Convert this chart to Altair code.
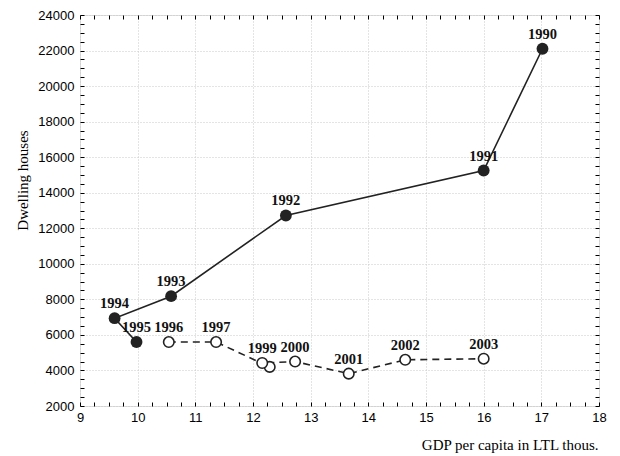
import altair as alt
import pandas as pd

years = [1990, 1991, 1992, 1993, 1994, 1995, 1996, 1997, 1998, 1999, 2000, 2001, 2002, 2003]
gdp = [17.02, 16.0, 12.57, 10.58, 9.60, 9.98, 10.54, 11.36, 12.29, 12.16, 12.73, 13.66, 14.64, 16.0]
houses = [22100, 15250, 12720, 8180, 6940, 5600, 5600, 5600, 4200, 4420, 4500, 3820, 4600, 4660]
groups = ["a"] * 6 + ["b"] * 8
labels = ["1990", "1991", "1992", "1993", "1994", "1995", "1996", "1997", "", "1999",
          "2000", "2001", "2002", "2003"]

x_major = [9, 10, 11, 12, 13, 14, 15, 16, 17, 18]
y_major = [2000, 4000, 6000, 8000, 10000, 12000, 14000, 16000, 18000, 20000, 22000, 24000]
x_minor = [9 + i * 0.25 for i in range(37)]
y_minor = [2000 + i * 500 for i in range(45)]

df = pd.DataFrame({"year": years, "gdp": gdp, "houses": houses, "grp": groups, "label": labels})

W, H = 519, 391
xs = alt.Scale(domain=[9, 18], nice=False, zero=False)
ys = alt.Scale(domain=[2000, 24000], nice=False, zero=False)

base = alt.Chart(df)

x_main = alt.X("gdp:Q", scale=xs, axis=alt.Axis(
    values=x_major, orient="bottom", title="GDP per capita in LTL thous.", format="d",
    titleFont="Liberation Serif", titleFontSize=15, titleFontWeight="normal", titleColor="black",
    titleAnchor="end", titleAlign="right", titleX=W - 1, titleY=43, titleBaseline="alphabetic",
    labelFont="Liberation Sans", labelFontSize=13, labelColor="black", labelPadding=5,
    ticks=False, domain=False, grid=True, gridColor="#c8c8c8", gridDash=[1, 2], gridWidth=1,
    labelFlush=False))
y_main = alt.Y("houses:Q", scale=ys, axis=alt.Axis(
    values=y_major, orient="left", title="Dwelling houses", format="d",
    titleFont="Liberation Serif", titleFontSize=15, titleFontWeight="normal", titleColor="black",
    titleAngle=-90, titleAlign="center", titleBaseline="middle", titleX=-58, titleY=165,
    labelFont="Liberation Sans", labelFontSize=13, labelColor="black", labelPadding=6,
    ticks=False, domain=False, grid=True, gridColor="#c8c8c8", gridDash=[1, 2], gridWidth=1,
    labelFlush=False))

solid = base.transform_filter(alt.datum.grp == "a").mark_line(
    color="#222222", strokeWidth=1.6).encode(x=x_main, y=y_main, order="year:O")

x_none = alt.X("gdp:Q", scale=xs, axis=None)
y_none = alt.Y("houses:Q", scale=ys, axis=None)

dashed = base.transform_filter(alt.datum.grp == "b").mark_line(
    color="#222222", strokeWidth=1.6, strokeDash=[7, 5]).encode(x=x_none, y=y_none, order="year:O")

filled = base.transform_filter(alt.datum.grp == "a").mark_point(
    filled=True, size=140, color="#222222", opacity=1).encode(x=x_none, y=y_none)

hollow = base.transform_filter(alt.datum.grp == "b").mark_point(
    filled=True, size=110, fill="white", stroke="#222222", strokeWidth=1.6, opacity=1).encode(x=x_none, y=y_none)

text = base.mark_text(
    font="Liberation Serif", fontSize=14.5, fontWeight="bold", color="#111111",
    dy=-10, baseline="alphabetic", align="center").encode(x=x_none, y=y_none, text="label:N")


def tick_axis(orient, values, field, scale, enc):
    ax = alt.Axis(orient=orient, values=values, labels=False, domain=False, grid=False,
                  ticks=True, tickSize=4, offset=-4, tickColor="black", tickWidth=1, title=None)
    return enc(field, scale=scale, axis=ax)


ticks_bl = base.mark_point(opacity=0).encode(
    x=tick_axis("bottom", x_minor, "gdp:Q", xs, alt.X),
    y=tick_axis("left", y_minor, "houses:Q", ys, alt.Y))
ticks_tr = base.mark_point(opacity=0).encode(
    x=tick_axis("top", x_minor, "gdp:Q", xs, alt.X),
    y=tick_axis("right", y_minor, "houses:Q", ys, alt.Y))

chart = alt.layer(solid, dashed, filled, hollow, text, ticks_bl, ticks_tr).resolve_axis(
    x="independent", y="independent"
).properties(
    width=W, height=H,
    autosize=alt.AutoSizeParams(type="none"),
    padding={"left": 72, "top": 7, "right": 12, "bottom": 49},
).configure_view(
    stroke="black", strokeWidth=1.6
).configure(background="white")

chart.save("out.html", embed_options={"renderer": "svg", "actions": False})
